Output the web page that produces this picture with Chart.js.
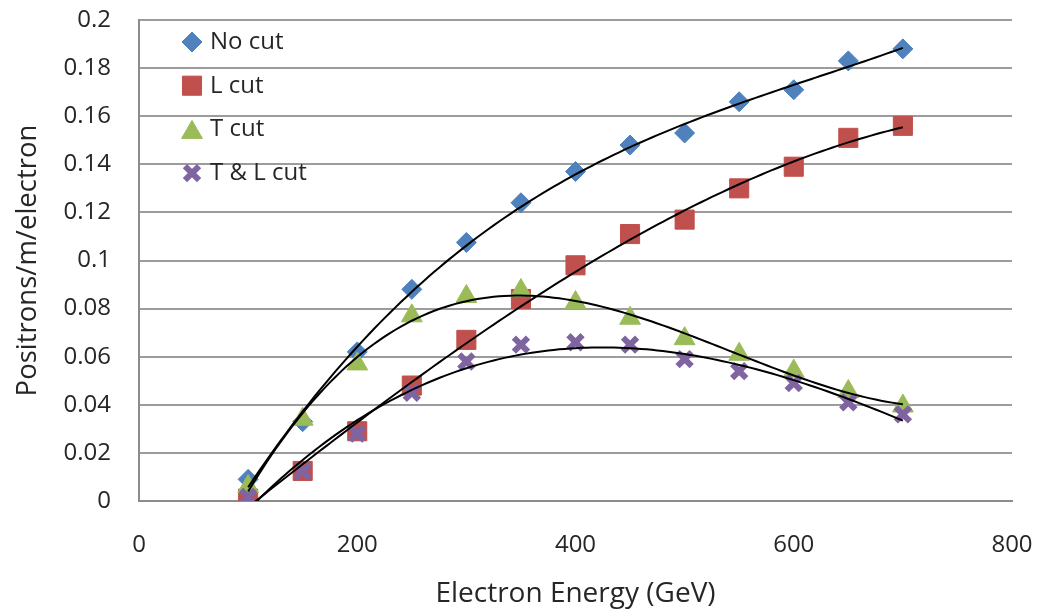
<!DOCTYPE html>
<html>
<head>
<meta charset="utf-8">
<title>Positrons per electron</title>
<script src="https://cdn.jsdelivr.net/npm/chart.js@4.4.1/dist/chart.umd.min.js"></script>
<style>
  html, body { margin: 0; padding: 0; background: #fff; }
  #wrap { width: 1037px; height: 609px; }
</style>
</head>
<body>
<div id="wrap"><canvas id="chart" width="1037" height="609"></canvas></div>
<script>
const energies = [100, 150, 200, 250, 300, 350, 400, 450, 500, 550, 600, 650, 700];
const noCut  = [0.009, 0.033, 0.062, 0.088, 0.1075, 0.124, 0.137, 0.148, 0.153, 0.166, 0.171, 0.183, 0.188];
const lCut   = [0.001, 0.0125, 0.029, 0.048, 0.067, 0.084, 0.098, 0.111, 0.117, 0.130, 0.139, 0.151, 0.156];
const tCut   = [0.006, 0.034, 0.057, 0.077, 0.085, 0.0875, 0.0825, 0.076, 0.0675, 0.061, 0.054, 0.0455, 0.0395];
const tlCut  = [0.0017, 0.0125, 0.028, 0.045, 0.058, 0.065, 0.066, 0.065, 0.059, 0.054, 0.049, 0.041, 0.036];
const yTicks = [0, 0.02, 0.04, 0.06, 0.08, 0.1, 0.12, 0.14, 0.16, 0.18, 0.2];
const xTicks = [0, 200, 400, 600, 800];

// least squares polynomial, x scaled by 100 for conditioning
function polyFit(xs, ys, order) {
  const n = order + 1;
  const A = Array.from({ length: n }, () => new Array(n + 1).fill(0));
  xs.forEach((x, k) => {
    const t = x / 100;
    for (let i = 0; i < n; i++) {
      for (let j = 0; j < n; j++) A[i][j] += Math.pow(t, i + j);
      A[i][n] += ys[k] * Math.pow(t, i);
    }
  });
  for (let i = 0; i < n; i++) {
    let p = i;
    for (let r = i + 1; r < n; r++) if (Math.abs(A[r][i]) > Math.abs(A[p][i])) p = r;
    [A[i], A[p]] = [A[p], A[i]];
    for (let r = 0; r < n; r++) {
      if (r === i) continue;
      const f = A[r][i] / A[i][i];
      for (let c = i; c <= n; c++) A[r][c] -= f * A[i][c];
    }
  }
  return A.map((row, i) => row[n] / row[i]);
}

function trend(ys, order) {
  const c = polyFit(energies, ys, order);
  const pts = [];
  for (let x = energies[0]; x <= energies[energies.length - 1]; x += 5) {
    const t = x / 100;
    pts.push({ x: x, y: c.reduce((s, ci, i) => s + ci * Math.pow(t, i), 0) });
  }
  return pts;
}

const toPoints = ys => energies.map((x, i) => ({ x: x, y: ys[i] }));

const series = [
  { label: 'No cut',    data: noCut, color: '#4F81BD', style: 'rectRot',  radius: 10, order: 3 },
  { label: 'L cut',     data: lCut,  color: '#C0504D', style: 'rect',     radius: 13.5, order: 3 },
  { label: 'T cut',     data: tCut,  color: '#9BBB59', style: 'triangle', radius: 12, order: 3 },
  { label: 'T & L cut', data: tlCut, color: '#8064A2', style: 'crossRot', radius: 10, order: 3 }
];

const datasets = [];
series.forEach((s, i) => {
  datasets.push({
    label: s.label,
    data: toPoints(s.data),
    pointStyle: s.style,
    pointRadius: s.radius,
    pointHoverRadius: s.radius,
    backgroundColor: s.color,
    borderColor: s.color,
    pointBorderWidth: s.style === 'crossRot' ? 6 : 1,
    showLine: false,
    order: 4 - i
  });
});
series.forEach(s => {
  datasets.push({
    label: s.label + ' fit',
    data: trend(s.data, s.order),
    showLine: true,
    pointRadius: 0,
    borderColor: '#000',
    borderWidth: 2,
    tension: 0,
    order: 0
  });
});

// legend drawn inside the plot area, top left
const insideLegend = {
  id: 'insideLegend',
  afterDraw(chart) {
    const ctx = chart.ctx;
    const area = chart.chartArea;
    ctx.save();
    ctx.font = '24px "Open Sans"';
    ctx.textBaseline = 'middle';
    ctx.textAlign = 'left';
    series.forEach((s, i) => {
      const x = area.left + 53;
      const y = area.top + 22 + i * 43.7;
      ctx.fillStyle = s.color;
      ctx.strokeStyle = s.color;
      ctx.lineWidth = s.style === 'crossRot' ? 6 : 1;
      Chart.helpers.drawPoint(ctx, {
        pointStyle: s.style,
        radius: s.radius,
        rotation: 0,
        borderWidth: s.style === 'crossRot' ? 6 : 1
      }, x, s.style === 'triangle' ? y + 3 : y);
      ctx.fillStyle = '#262626';
      ctx.fillText(s.label, x + 18, y);
    });
    ctx.restore();
  }
};

new Chart(document.getElementById('chart'), {
  type: 'scatter',
  data: { datasets: datasets },
  plugins: [insideLegend],
  options: {
    responsive: false,
    animation: false,
    layout: { padding: { top: 20, right: 25, left: 0, bottom: 0 } },
    plugins: {
      legend: { display: false },
      tooltip: { enabled: false }
    },
    scales: {
      x: {
        type: 'linear',
        min: 0,
        max: 800,
        afterFit: scale => {
          scale.height = 108;
          scale.paddingLeft = 0;
          scale.paddingRight = 0;
        },
        afterBuildTicks: scale => { scale.ticks = xTicks.map(v => ({ value: v })); },
        grid: { display: false, drawTicks: false },
        border: { display: true, color: '#8c8c8c', width: 2 },
        ticks: { padding: 30, color: '#262626', font: { family: 'Open Sans', size: 24 } },
        title: {
          display: true,
          text: 'Electron Energy (GeV)',
          color: '#262626',
          font: { family: 'Open Sans', size: 28, lineHeight: 1 },
          padding: { top: 0, bottom: 1 }
        }
      },
      y: {
        min: 0,
        max: 0.2,
        afterFit: scale => {
          scale.width = 139;
          scale.paddingTop = 0;
          scale.paddingBottom = 0;
        },
        afterBuildTicks: scale => { scale.ticks = yTicks.map(v => ({ value: v })); },
        grid: { color: '#9c9c9c', lineWidth: 2, drawTicks: false },
        border: { display: true, color: '#8c8c8c', width: 2 },
        ticks: {
          padding: 28,
          color: '#262626',
          font: { family: 'Open Sans', size: 24 },
          callback: v => String(Number(v.toFixed(2)))
        },
        title: {
          display: true,
          text: 'Positrons/m/electron',
          color: '#262626',
          font: { family: 'Open Sans', size: 27.5, lineHeight: 1.2 },
          padding: { top: 12, bottom: 0 }
        }
      }
    }
  }
});
</script>
</body>
</html>
